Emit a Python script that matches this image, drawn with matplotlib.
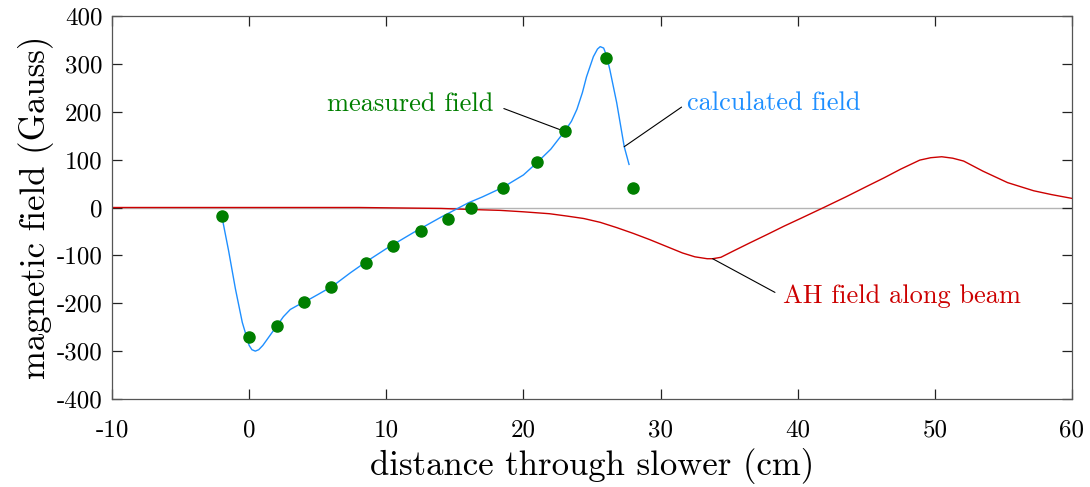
import matplotlib
matplotlib.use("Agg")
from matplotlib import pyplot as plt

plt.rcParams['font.family'] = ['cmr10', 'DejaVu Serif']
plt.rcParams['mathtext.fontset'] = 'cm'
plt.rcParams['axes.unicode_minus'] = False
plt.rcParams['axes.formatter.use_mathtext'] = False

# measured points
meas_x = [-2, 0, 2, 4, 6, 8.5, 10.5, 12.5, 14.5, 16.2, 18.5, 21, 23, 26, 28]
meas_y = [-17, -271, -248, -198, -167, -115, -81, -50, -23, 0, 40, 96, 159, 313, 40]

# calculated field
calc_x = [-2, -1.5, -1, -0.5, 0, 0.2, 0.45, 0.7, 1.0, 1.4, 2.0, 2.5, 3.0, 3.5, 4.0,
          5.0, 6.1, 7.4, 8.6, 10, 12, 14, 16, 17, 18.5, 20, 21, 22, 23, 23.5,
          23.9, 24.3, 24.6, 25.1, 25.4, 25.6, 25.85, 26.05, 26.3, 26.8, 27.35, 27.7]
calc_y = [-17, -90, -170, -240, -288, -297, -300, -297, -288, -272, -248, -228, -213,
          -205, -198, -182, -164, -136, -112, -86, -52, -20, 10, 22, 42, 68, 94,
          122, 159, 180, 205, 240, 273, 315, 331, 336, 333, 318, 288, 219, 127, 90]

# anti-Helmholtz field along beam
ah_x = [-10, -5, 0, 5, 8, 11, 14, 16, 18.3, 20, 21.9, 23.2, 24.4, 25.6, 26.8, 28, 29.2,
        30.4, 31.6, 32.5, 33.4, 33.8, 34.4, 35.3, 36.5, 37.8, 39, 40.2, 41.9, 43.5,
        45.1, 46.3, 47.5, 48.9, 49.7, 50.5, 51.3, 52.1, 53.5, 55.3, 57.2, 58.5, 60]
ah_y = [0, 0, 0, 0, 0, -1, -2, -4, -6, -9, -13, -18, -23, -31, -42, -54, -67,
        -81, -95, -103, -107, -107, -104, -91, -74, -56, -39, -23, 0, 22,
        45, 62, 80, 99, 104, 106, 103, 97, 76, 52, 35, 27, 19]

fig = plt.figure(figsize=(10.9, 4.87), dpi=100)
ax = fig.add_axes([112 / 1090, 1 - 399 / 487, 960 / 1090, 383 / 487])

ax.axhline(0, color='#b4b4b4', linewidth=1, zorder=1)
ax.plot(ah_x, ah_y, color='#cc0000', linewidth=1, zorder=2)
ax.plot(calc_x, calc_y, color='#1e8fff', linewidth=1, zorder=3)
ax.plot(meas_x, meas_y, 'o', color='#007f00', markersize=8, zorder=4)

ax.annotate('measured field', xy=(23, 159), xytext=(17.8, 215), color='#007f00',
            fontsize=19, ha='right', va='center',
            arrowprops=dict(arrowstyle='-', color='black', linewidth=0.8,
                            relpos=(1, 0.5), shrinkA=6, shrinkB=0))
ax.annotate('calculated field', xy=(27.35, 127), xytext=(31.9, 217), color='#1e8fff',
            fontsize=19, ha='left', va='center',
            arrowprops=dict(arrowstyle='-', color='black', linewidth=0.8,
                            relpos=(0, 0.5), shrinkA=2, shrinkB=0))
ax.annotate('AH field along beam', xy=(33.8, -107), xytext=(38.9, -186), color='#cc0000',
            fontsize=19, ha='left', va='center',
            arrowprops=dict(arrowstyle='-', color='black', linewidth=0.8,
                            relpos=(0, 0.5), shrinkA=4, shrinkB=0))

ax.set_xlim(-10, 60)
ax.set_ylim(-400, 400)
ax.set_xticks(range(-10, 61, 10))
ax.set_yticks(range(-400, 401, 100))
ax.tick_params(axis='both', direction='in', length=7, width=0.9, color='#222222',
               top=True, right=True, labelsize=18, pad=7)
ax.tick_params(axis='x', pad=15)
for s in ax.spines.values():
    s.set_linewidth(0.9)
    s.set_color('#555555')

ax.set_xlabel('distance through slower (cm)', fontsize=25, labelpad=4)
ax.set_ylabel('magnetic field (Gauss)', fontsize=25, labelpad=2)

fig.savefig('out.png', dpi=100)
